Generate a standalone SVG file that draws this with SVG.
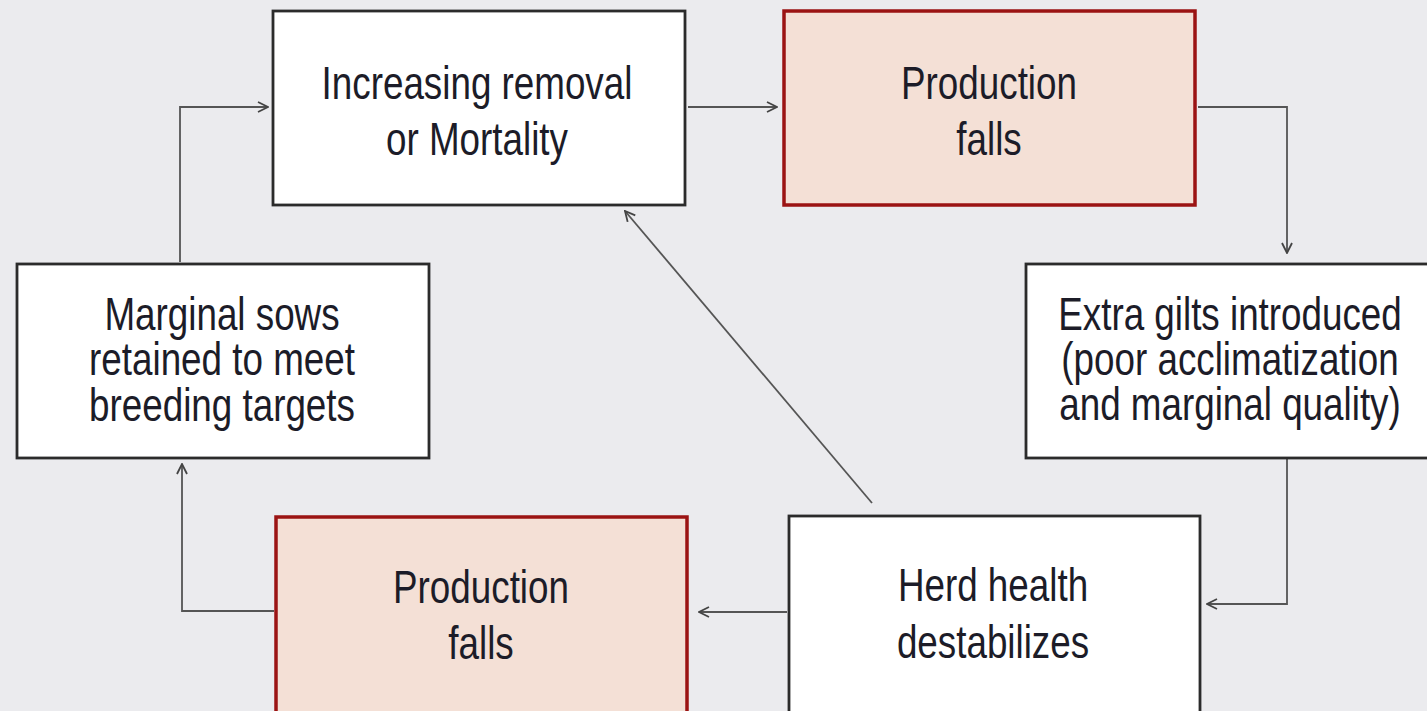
<svg xmlns="http://www.w3.org/2000/svg" width="1427" height="711" viewBox="0 0 1427 711">
<style>
.bg{fill:#ebebee}
.w{fill:#ffffff;stroke:#2b2b2b;stroke-width:2.8}
.r{fill:#f4e0d6;stroke:#9b1313;stroke-width:3.5}
.t{font-family:"Liberation Sans",Arial,sans-serif;font-size:46px;fill:#1c1c28;text-anchor:middle}
.c{fill:none;stroke:#555;stroke-width:1.8}
</style>
<defs>
<marker id="ah" viewBox="0 0 12 12" refX="11" refY="6" markerWidth="12" markerHeight="12" markerUnits="userSpaceOnUse" orient="auto">
<path d="M1,1 L11,6 L1,11" fill="none" stroke="#444" stroke-width="1.8"/>
</marker>
</defs>
<rect class="bg" x="0" y="0" width="1427" height="711"/>
<g id="connectors">
<polyline class="c" points="180,262 180,107 268,107" marker-end="url(#ah)"/>
<line class="c" x1="688" y1="107" x2="777" y2="107" marker-end="url(#ah)"/>
<polyline class="c" points="1198,107 1287,107 1287,253" marker-end="url(#ah)"/>
<polyline class="c" points="1287,459 1287,604 1207,604" marker-end="url(#ah)"/>
<line class="c" x1="787" y1="612" x2="699" y2="612" marker-end="url(#ah)"/>
<polyline class="c" points="274,611 182,611 182,464" marker-end="url(#ah)"/>
<line class="c" x1="872" y1="503" x2="625" y2="211" marker-end="url(#ah)"/>
</g>
<g id="n1">
<rect class="w" x="273" y="11" width="412" height="194"/>
<g transform="translate(477 0) scale(0.8 1)">
<text class="t" x="0" y="99">Increasing removal</text>
<text class="t" x="0" y="155">or Mortality</text>
</g>
</g>
<g id="n2">
<rect class="r" x="784" y="11" width="411" height="194"/>
<g transform="translate(989 0) scale(0.8 1)">
<text class="t" x="0" y="99">Production</text>
<text class="t" x="0" y="155">falls</text>
</g>
</g>
<g id="n3">
<rect class="w" x="1026" y="264" width="410" height="194"/>
<g transform="translate(1230 0) scale(0.8 1)">
<text class="t" x="0" y="330">Extra gilts introduced</text>
<text class="t" x="0" y="375">(poor acclimatization</text>
<text class="t" x="0" y="420">and marginal quality)</text>
</g>
</g>
<g id="n4">
<rect class="w" x="789" y="516" width="411" height="200"/>
<g transform="translate(993 0) scale(0.8 1)">
<text class="t" x="0" y="601">Herd health</text>
<text class="t" x="0" y="658">destabilizes</text>
</g>
</g>
<g id="n5">
<rect class="r" x="276" y="517" width="411" height="200"/>
<g transform="translate(481 0) scale(0.8 1)">
<text class="t" x="0" y="603">Production</text>
<text class="t" x="0" y="659">falls</text>
</g>
</g>
<g id="n6">
<rect class="w" x="17" y="264" width="412" height="194"/>
<g transform="translate(222 0) scale(0.8 1)">
<text class="t" x="0" y="330">Marginal sows</text>
<text class="t" x="0" y="375">retained to meet</text>
<text class="t" x="0" y="421">breeding targets</text>
</g>
</g>
</svg>
